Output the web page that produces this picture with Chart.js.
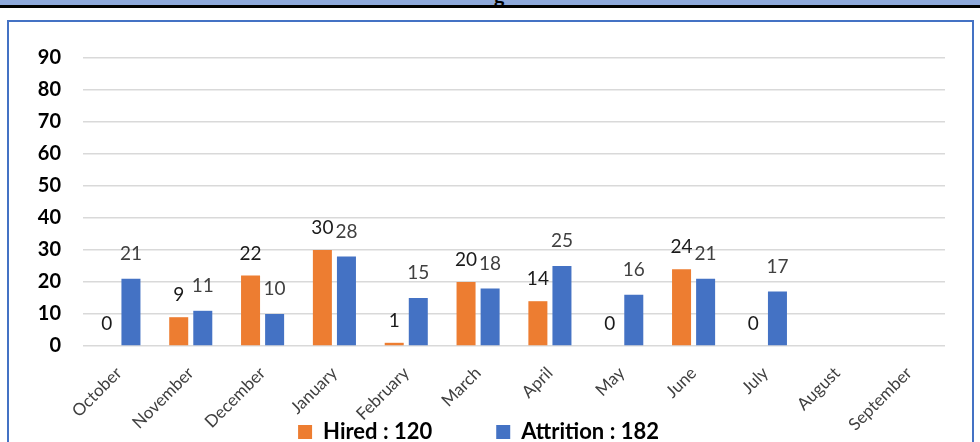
<!DOCTYPE html>
<html>
<head>
<meta charset="utf-8">
<script src="https://cdn.jsdelivr.net/npm/chart.js@4.4.1/dist/chart.umd.min.js"></script>
<style>
  html, body { margin: 0; padding: 0; background: #fff; overflow: hidden; width: 980px; height: 442px; }
  .strip { position: absolute; left: 0; top: 0; width: 980px; height: 5px; background: #8EA9DB; overflow: hidden; }
  .strip span { position: absolute; left: 494px; top: -17px; font: bold 20px Lato, sans-serif; color: #000; }
  .rule { position: absolute; left: 0; top: 5px; width: 980px; height: 3px; background: #000; }
  .box { position: absolute; left: 7px; top: 20px; width: 963px; height: 440px; border: 2px solid #4472C4; }
  #wrap { position: absolute; left: 0; top: 0; width: 980px; height: 453px; }
</style>
</head>
<body>
<div class="strip"><span>g</span></div>
<div class="rule"></div>
<div class="box"></div>
<div id="wrap"><canvas id="chart"></canvas></div>
<script>
// Chart data
const months = ['October', 'November', 'December', 'January', 'February', 'March',
    'April', 'May', 'June', 'July', 'August', 'September'];
const hired = [0, 9, 22, 30, 1, 20, 14, 0, 24, 0, null, null];
const attrition = [21, 11, 10, 28, 15, 18, 25, 16, 21, 17, null, null];
const yTicks = [0, 10, 20, 30, 40, 50, 60, 70, 80, 90];

const total = arr => arr.reduce((s, v) => s + (v || 0), 0);

// Value labels above bars
const barLabels = {
    id: 'barLabels',
    afterDatasetsDraw(chart) {
        const ctx = chart.ctx;
        const styles = [
            { color: '#1a1a1a', lift: 22 },
            { color: '#404040', lift: 25 }
        ];
        ctx.save();
        ctx.font = '19px Lato, sans-serif';
        ctx.textAlign = 'center';
        ctx.textBaseline = 'middle';
        chart.data.datasets.forEach((ds, i) => {
            const meta = chart.getDatasetMeta(i);
            ctx.fillStyle = styles[i].color;
            meta.data.forEach((bar, j) => {
                const v = ds.data[j];
                if (v === null || v === undefined) return;
                ctx.fillText(String(v), bar.x, bar.y - styles[i].lift);
            });
        });
        ctx.restore();
    }
};

// x axis is squeezed so the wide legend fits, let its labels draw past it
const xLabelRoom = {
    id: 'xLabelRoom',
    afterLayout(chart) {
        const x = chart.scales.x;
        x.bottom = chart.height;
        x.height = x.bottom - x.top;
    }
};

const ctx = document.getElementById('chart').getContext('2d');
const chart = new Chart(ctx, {
    type: 'bar',
    data: {
        labels: months,
        datasets: [{
            label: 'Hired : ' + total(hired),
            data: hired,
            backgroundColor: '#ED7D31',
            categoryPercentage: 0.67,
            barPercentage: 0.79
        }, {
            label: 'Attrition : ' + total(attrition),
            data: attrition,
            backgroundColor: '#4472C4',
            categoryPercentage: 0.67,
            barPercentage: 0.79
        }]
    },
    options: {
        responsive: true,
        maintainAspectRatio: false,
        animation: false,
        layout: { padding: { top: 58, right: 35, left: 12, bottom: 0 } },
        plugins: {
            legend: {
                position: 'bottom',
                labels: {
                    boxWidth: 14,
                    boxHeight: 14,
                    padding: 64,
                    color: '#000',
                    font: { family: 'Lato', size: 22, weight: 'bold' }
                }
            },
            tooltip: { enabled: false }
        },
        scales: {
            x: {
                afterFit(scale) { scale.height = 11; },
                grid: { display: false },
                border: { display: false },
                ticks: {
                    minRotation: 45,
                    maxRotation: 45,
                    autoSkip: false,
                    padding: 9,
                    color: '#404040',
                    font: { family: 'Lato', size: 17 }
                }
            },
            y: {
                min: 0,
                max: 90,
                afterFit(scale) { scale.width = 71; },
                afterBuildTicks(scale) { scale.ticks = yTicks.map(v => ({ value: v })); },
                grid: { color: '#D9D9D9', lineWidth: 1.5, drawTicks: false },
                border: { display: false },
                ticks: {
                    autoSkip: false,
                    padding: 22,
                    color: '#000',
                    font: { family: 'Lato', size: 20, weight: 'bold' }
                }
            }
        }
    },
    plugins: [barLabels, xLabelRoom]
});
</script>
</body>
</html>
